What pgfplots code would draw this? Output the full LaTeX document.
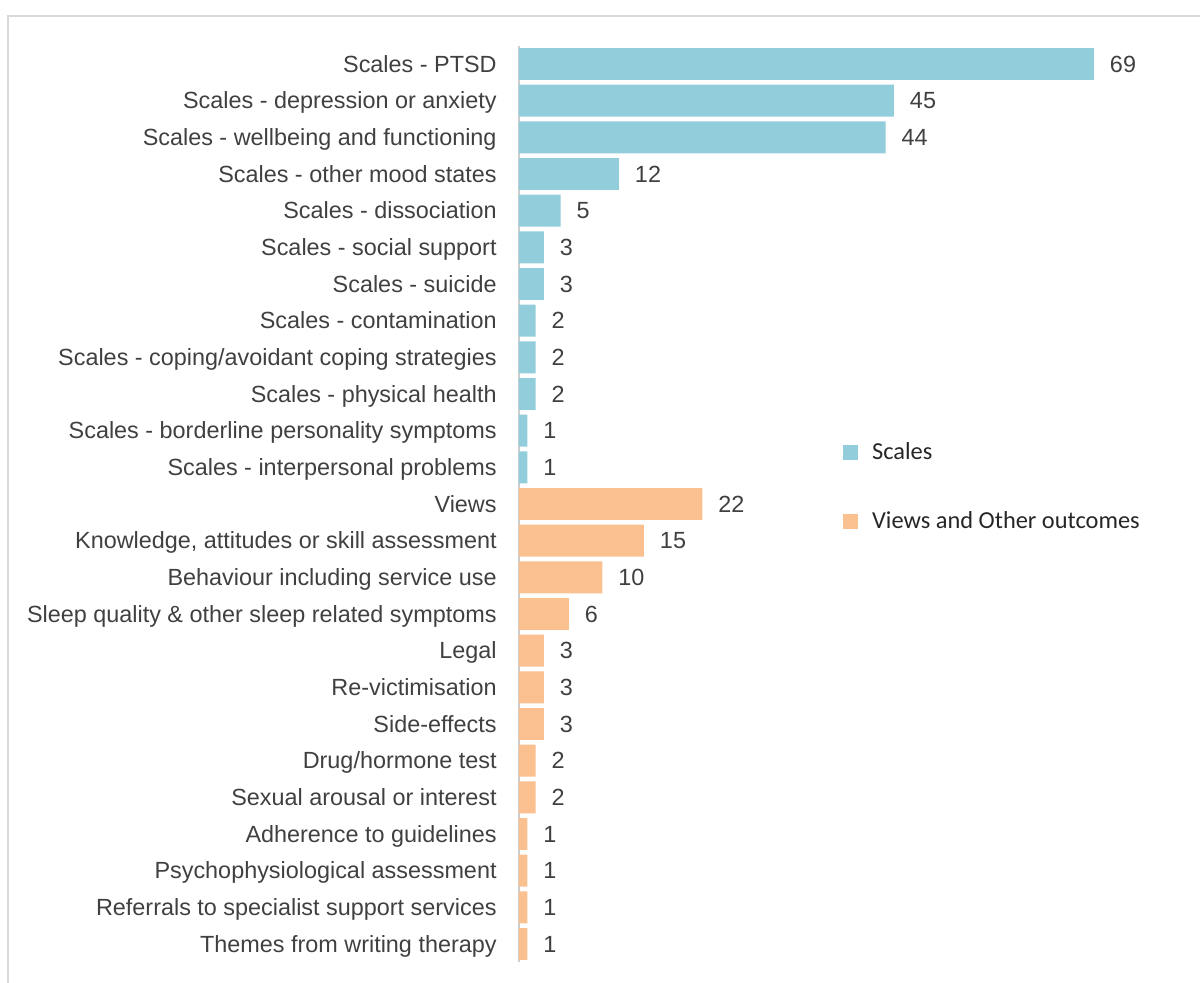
\documentclass[border=0pt]{standalone}
\usepackage{pgfplots}
\pgfplotsset{compat=1.18}
\usepackage{fontspec}
\setmainfont{Liberation Sans}
\newfontfamily\legendfont{Carlito}
\definecolor{scaleblue}{RGB}{146,205,220}
\definecolor{viewsorange}{RGB}{250,192,144}
\definecolor{labelgray}{RGB}{64,64,64}
\definecolor{framegray}{RGB}{217,217,217}
\definecolor{axisgray}{RGB}{205,205,205}

\begin{document}
\begin{tikzpicture}
\path[use as bounding box] (0,0) rectangle (600pt,491.5pt);
\draw[framegray, line width=1pt] (4pt,0) -- (4pt,483.5pt) -- (600pt,483.5pt);
\begin{axis}[
    at={(259.5pt,10.33pt)}, anchor=south west,
    scale only axis, width=287.5pt, height=458.33pt,
    xbar, bar shift=0pt, bar width=0.87,
    xmin=0, xmax=69,
    ymin=-0.5, ymax=24.5, y dir=reverse,
    axis x line=none, axis y line=left,
    y axis line style={-, draw=axisgray, line width=1pt},
    major tick length=0pt,
    ytick={0,...,24},
    yticklabels={
        Scales - PTSD,
        Scales - depression or anxiety,
        Scales - wellbeing and functioning,
        Scales - other mood states,
        Scales - dissociation,
        Scales - social support,
        Scales - suicide,
        Scales - contamination,
        Scales - coping/avoidant coping strategies,
        Scales - physical health,
        Scales - borderline personality symptoms,
        Scales - interpersonal problems,
        Views,
        {Knowledge, attitudes or skill assessment},
        Behaviour including service use,
        Sleep quality \& other sleep related symptoms,
        Legal,
        Re-victimisation,
        Side-effects,
        Drug/hormone test,
        Sexual arousal or interest,
        Adherence to guidelines,
        Psychophysiological assessment,
        Referrals to specialist support services,
        Themes from writing therapy},
    yticklabel style={font=\fontsize{11.7}{13}\selectfont, text=labelgray,
        anchor=east, inner sep=0pt, text height=8.3pt, text depth=0pt, xshift=-11pt},
    nodes near coords,
    /pgf/number format/assume math mode=true,
    every node near coord/.append style={font=\fontsize{11.7}{13}\selectfont,
        text=labelgray, anchor=west, inner sep=0pt, text height=8.3pt,
        text depth=0pt, xshift=7.8pt},
    clip=false,
    legend image code/.code={\fill[#1] (0pt,-3.75pt) rectangle (7.5pt,3.75pt);},
    legend cell align=left,
    legend style={at={(0.563,0.5676)}, anchor=north west, draw=none, fill=none,
        inner sep=0pt, row sep=24.5pt, column sep=7pt,
        font=\legendfont\fontsize{12.2}{14}\selectfont, text=black!85,
        nodes={inner sep=0pt}},
]
% Scales
\addplot[fill=scaleblue, draw=none] coordinates {
    (69,0) (45,1) (44,2) (12,3) (5,4) (3,5)
    (3,6) (2,7) (2,8) (2,9) (1,10) (1,11)
};
\addlegendentry{Scales}
% Views and other outcomes
\addplot[fill=viewsorange, draw=none] coordinates {
    (22,12) (15,13) (10,14) (6,15) (3,16) (3,17) (3,18)
    (2,19) (2,20) (1,21) (1,22) (1,23) (1,24)
};
\addlegendentry{Views and Other outcomes}
\end{axis}
\end{tikzpicture}
\end{document}
